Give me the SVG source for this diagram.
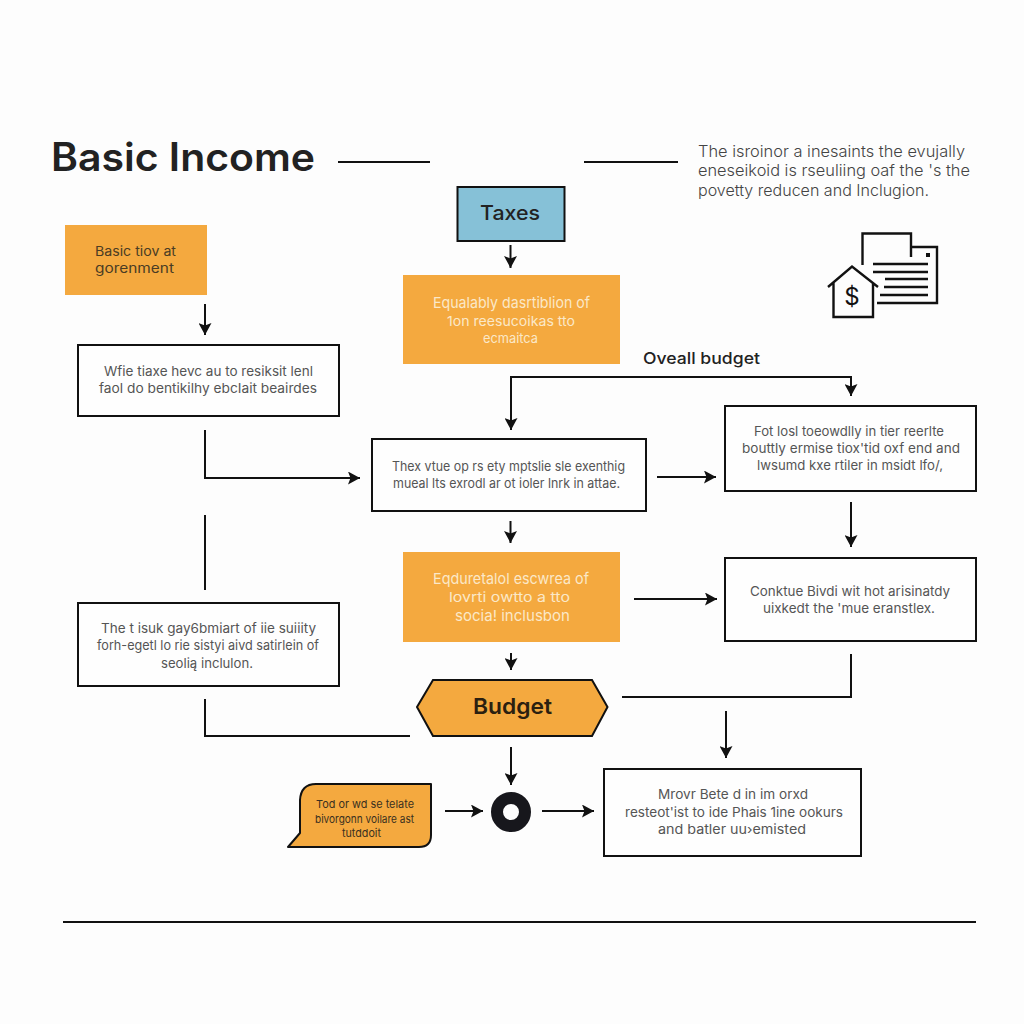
<svg xmlns="http://www.w3.org/2000/svg" width="1024" height="1024" viewBox="0 0 1024 1024">
<style>
text{font-family:"Inter","Liberation Sans",sans-serif;}
.t{font-size:13px;fill:#555;}
.k{font-size:13px;fill:#4a3c24;}
.w{font-size:13.5px;fill:#fbe8c8;}
.box{fill:#fefefe;stroke:#111;stroke-width:2;}
.or{fill:#f4a93f;}
.c{fill:none;stroke:#111;stroke-width:2;}
.a{marker-end:url(#ah);}
.i{fill:none;stroke:#111;stroke-width:2.400;}
</style>
<defs>
<marker id="ah" markerUnits="userSpaceOnUse" markerWidth="13" markerHeight="13" refX="12" refY="6.500" orient="auto"><path d="M0 0L12 6.500L0 13L2.500 6.500Z" fill="#111"/></marker>
</defs>
<rect width="1024" height="1024" fill="#fdfdfd"/>
<g id="header">
<text x="51" y="171" font-size="39" font-weight="600" fill="#222" textLength="264" lengthAdjust="spacingAndGlyphs">Basic Income</text>
<g font-size="16" fill="#444" font-weight="300">
<text x="698" y="157" textLength="267" lengthAdjust="spacingAndGlyphs">The isroinor a inesaints the evujally</text>
<text x="698" y="176" textLength="272" lengthAdjust="spacingAndGlyphs">eneseikoid is rseuliing oaf the 's the</text>
<text x="698" y="196" textLength="231" lengthAdjust="spacingAndGlyphs">povetty reducen and Inclugion.</text>
</g>
</g>
<g id="connectors">
<path class="c" d="M338 162H430M584 162H678M63 922H976"/>
<path class="c a" d="M510.500 245V268"/>
<path class="c a" d="M205 304V335"/>
<path class="c a" d="M205 430V478H360"/>
<path class="c" d="M205 515V590"/>
<path class="c" d="M205 699V736H410"/>
<path class="c a" d="M851 396V377H511V430"/>
<path class="c a" d="M840 377H851V396"/>
<path class="c a" d="M657 477H716"/>
<path class="c a" d="M851 502V547"/>
<path class="c a" d="M510.500 521V543"/>
<path class="c a" d="M634 599H717"/>
<path class="c a" d="M511 653V670"/>
<path class="c" d="M622 697H851V654"/>
<path class="c a" d="M726 711V758"/>
<path class="c a" d="M511 747V785"/>
<path class="c a" d="M445 811H483"/>
<path class="c a" d="M542 811H594"/>
</g>
<g id="node-taxes">
<rect x="457.500" y="187" width="107" height="54" fill="#86c1d7" stroke="#111" stroke-width="2"/>
<text x="480" y="220" font-size="20" font-weight="500" fill="#222" textLength="60" lengthAdjust="spacingAndGlyphs">Taxes</text>
</g>
<g id="node-government">
<rect class="or" x="65" y="225" width="142" height="70"/>
<text class="k" x="95" y="256" textLength="81" lengthAdjust="spacingAndGlyphs">Basic tiov at</text>
<text class="k" x="95" y="273" textLength="79" lengthAdjust="spacingAndGlyphs">gorenment</text>
</g>
<g id="node-equally">
<rect class="or" x="403" y="275" width="217" height="89"/>
<text class="w" x="433" y="308" style="font-size:15px" textLength="157" lengthAdjust="spacingAndGlyphs">Equalably dasrtiblion of</text>
<text class="w" x="447" y="326" textLength="128" lengthAdjust="spacingAndGlyphs">1on reesucoikas tto</text>
<text class="w" x="483" y="343" textLength="55" lengthAdjust="spacingAndGlyphs">ecmaitca</text>
</g>
<g id="node-left-1">
<rect class="box" x="78" y="345" width="261" height="71"/>
<text class="t" x="104" y="376" textLength="209" lengthAdjust="spacingAndGlyphs">Wfie tiaxe hevc au to resiksit lenl</text>
<text class="t" x="99" y="393" textLength="218" lengthAdjust="spacingAndGlyphs">faol do bentikilhy ebcIait beairdes</text>
</g>
<g id="overall-budget">
<text x="643" y="364" font-size="16" font-weight="500" fill="#222" textLength="117" lengthAdjust="spacingAndGlyphs">Oveall budget</text>
</g>
<g id="node-center">
<rect class="box" x="372" y="439" width="274" height="72"/>
<text class="t" x="392" y="471" textLength="233" lengthAdjust="spacingAndGlyphs">Thex vtue op rs ety mptslie sle exenthig</text>
<text class="t" x="393" y="488" textLength="227" lengthAdjust="spacingAndGlyphs">mueal lts exrodl ar ot ioler lnrk in attae.</text>
</g>
<g id="node-right-1">
<rect class="box" x="725" y="406" width="251" height="85"/>
<text class="t" x="754" y="436" textLength="190" lengthAdjust="spacingAndGlyphs">Fot losl toeowdlly in tier reerlte</text>
<text class="t" x="742" y="453" textLength="218" lengthAdjust="spacingAndGlyphs">bouttly ermise tiox'tid oxf end and</text>
<text class="t" x="757" y="470" textLength="186" lengthAdjust="spacingAndGlyphs">lwsumd kxe rtiler in msidt lfo/,</text>
</g>
<g id="node-right-2">
<rect class="box" x="725" y="558" width="251" height="83"/>
<text class="t" x="750" y="596" textLength="200" lengthAdjust="spacingAndGlyphs">Conktue Bivdi wit hot arisinatdy</text>
<text class="t" x="763" y="613" textLength="172" lengthAdjust="spacingAndGlyphs">uixkedt the 'mue eranstlex.</text>
</g>
<g id="node-equal-resource">
<rect class="or" x="403" y="552" width="217" height="90"/>
<text class="w" x="433" y="584" style="font-size:15px" textLength="156" lengthAdjust="spacingAndGlyphs">Eqduretalol escwrea of</text>
<text class="w" x="449" y="602" textLength="121" lengthAdjust="spacingAndGlyphs">lovrti owtto a tto</text>
<text class="w" x="455" y="621" style="font-size:15px" textLength="115" lengthAdjust="spacingAndGlyphs">socia! inclusbon</text>
</g>
<g id="node-left-2">
<rect class="box" x="78" y="603" width="261" height="83"/>
<text class="t" x="101" y="633" textLength="215" lengthAdjust="spacingAndGlyphs">The t isuk gay6bmiart of iie suiiity</text>
<text class="t" x="97" y="650" textLength="222" lengthAdjust="spacingAndGlyphs">forh-egetl lo rie sistyi aivd satirlein of</text>
<text class="t" x="161" y="668" textLength="92" lengthAdjust="spacingAndGlyphs">seolią inclulon.</text>
</g>
<g id="node-budget">
<path d="M417 707L433 680H592L607.500 707L592 736H433Z" fill="#f4a93f" stroke="#111" stroke-width="2"/>
<text x="473" y="714" font-size="22" font-weight="600" fill="#2b2010" textLength="79" lengthAdjust="spacingAndGlyphs">Budget</text>
</g>
<g id="node-bubble">
<path d="M300 800Q301 784 316 784H431V835Q431 847 419 847H288L300 833Z" fill="#f4a93f" stroke="#111" stroke-width="2" stroke-linejoin="round"/>
<text x="316" y="808" font-size="11" fill="#3a3020" textLength="98" lengthAdjust="spacingAndGlyphs">Tod or wd se telate</text>
<text x="315" y="823" font-size="11" fill="#3a3020" textLength="99" lengthAdjust="spacingAndGlyphs">bivorgonn voilare ast</text>
<text x="342" y="837" font-size="11" fill="#3a3020" textLength="39" lengthAdjust="spacingAndGlyphs">tutddoit</text>
</g>
<g id="node-junction">
<circle cx="511" cy="812" r="14" fill="none" stroke="#17171c" stroke-width="12"/>
</g>
<g id="node-bottom">
<rect class="box" x="604" y="769" width="257" height="87"/>
<text class="t" x="658" y="799" textLength="150" lengthAdjust="spacingAndGlyphs">Mrovr Bete d in im orxd</text>
<text class="t" x="625" y="817" textLength="218" lengthAdjust="spacingAndGlyphs">resteot'ist to ide Phais 1ine ookurs</text>
<text class="t" x="658" y="834" textLength="148" lengthAdjust="spacingAndGlyphs">and batler uu›emisted</text>
</g>
<g id="icon">
<path class="i" d="M862.500 265V233.500H911V257M911 247H937V303H877"/>
<rect x="926" y="253" width="4" height="4" fill="#111"/>
<path class="i" d="M873 264H928M873 272H928M885 279H928M884 287H928M880 295H928"/>
<path class="i" d="M828 287L852 266.500L878 287M833.500 283V317H873V283"/>
<text x="852" y="305" font-size="24" fill="#111" text-anchor="middle" font-weight="400">$</text>
</g>
</svg>
